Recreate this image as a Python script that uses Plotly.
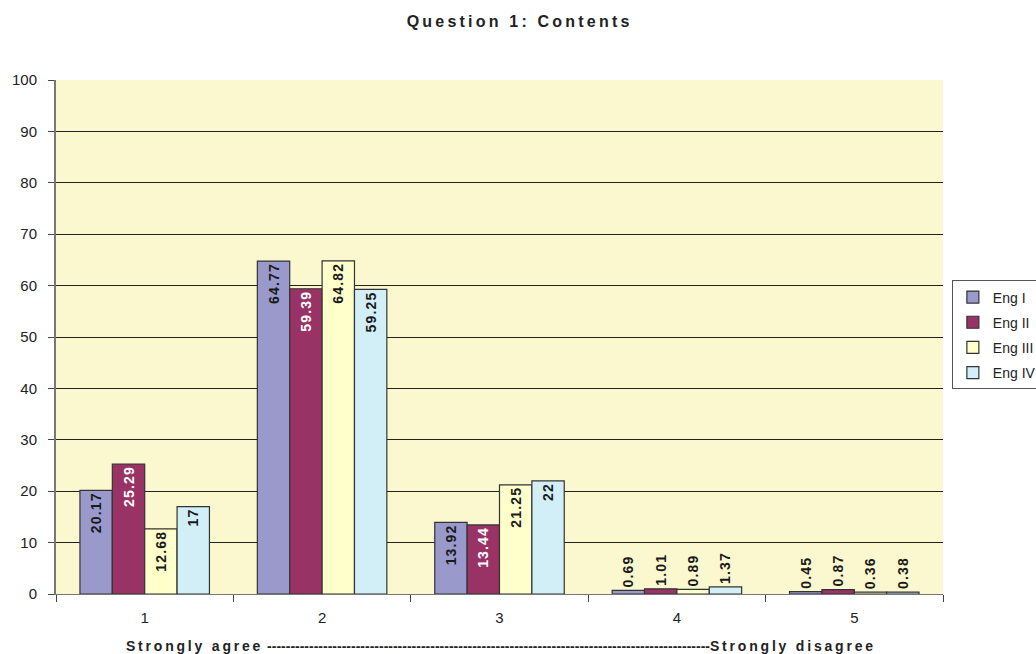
import plotly.graph_objects as go

categories = ["1", "2", "3", "4", "5"]
series_names = ["Eng I", "Eng II", "Eng III", "Eng IV"]
eng1 = [20.17, 64.77, 13.92, 0.69, 0.45]
eng2 = [25.29, 59.39, 13.44, 1.01, 0.87]
eng3 = [12.68, 64.82, 21.25, 0.89, 0.36]
eng4 = [17, 59.25, 22, 1.37, 0.38]
y_ticks = list(range(0, 101, 10))

colors = ["#9999CC", "#993366", "#FFFFCC", "#D2EEF6"]
text_colors = ["#1a1a1a", "#FFFFFF", "#1a1a1a", "#1a1a1a"]

TS = "\u2009"  # thin space for letter spacing
HS = "\u200a"  # hair space


def spaced(s, sep=TS):
    return sep.join(list(s))


FONT = "Arial, Liberation Sans, sans-serif"

fig = go.Figure()
for name, vals, col, tcol in zip(series_names, [eng1, eng2, eng3, eng4], colors, text_colors):
    pos = ["inside" if v > 5 else "outside" for v in vals]
    tc = [tcol if v > 5 else "#1a1a1a" for v in vals]
    fig.add_trace(go.Bar(
        x=categories, y=vals, name=name, legendgroup=name,
        marker=dict(color=col, line=dict(color="#333333", width=1.2)),
        text=[spaced(f"{v:g}", HS) for v in vals],
        textposition=pos,
        insidetextanchor="end",
        textangle=-90,
        constraintext="none",
        cliponaxis=False,
        textfont=dict(family=FONT, size=14, color=tc, weight="bold"),
        outsidetextfont=dict(family=FONT, size=14, color="#1a1a1a", weight="bold"),
    ))

xtitle = spaced("Strongly agree ", TS) + "-" * 95 + spaced("Strongly disagree", TS)
fig.update_layout(
    width=1036, height=654,
    paper_bgcolor="white",
    plot_bgcolor="#FBF8D0",
    barmode="group",
    bargap=0.27,
    bargroupgap=0,
    margin=dict(l=56, r=93, t=80, b=60, autoexpand=False),
    font=dict(family=FONT, color="#222222"),
    title=dict(
        text="<b>" + spaced("Question 1: Contents") + "</b>",
        x=0.5, xanchor="center", y=0.968, yanchor="middle",
        font=dict(size=16, color="#222222"),
    ),
    legend=dict(
        x=1.01, xanchor="left", y=0.61, yanchor="top",
        bordercolor="#555555", borderwidth=1,
        bgcolor="white",
        font=dict(size=14, color="#222222"),
        itemwidth=30,
        tracegroupgap=4,
    ),
    xaxis=dict(
        type="category",
        tickson="boundaries",
        ticks="outside", ticklen=7, tickcolor="#444444",
        showline=True, linecolor="#777777", linewidth=1,
        tickfont=dict(size=15, color="#222222"),
        ticklabelstandoff=10,
        title=dict(
            text="<b>" + xtitle + "</b>",
            font=dict(size=14, color="#222222"),
            standoff=16,
        ),
    ),
    yaxis=dict(
        range=[0, 100],
        tickvals=y_ticks,
        showgrid=True, gridcolor="#222222", gridwidth=1,
        ticks="outside", ticklen=6, tickcolor="#444444",
        showline=True, linecolor="#777777", linewidth=2,
        tickfont=dict(size=15, color="#222222"),
        ticklabelstandoff=8,
        zeroline=False,
    ),
)

fig.write_html("out.html")
